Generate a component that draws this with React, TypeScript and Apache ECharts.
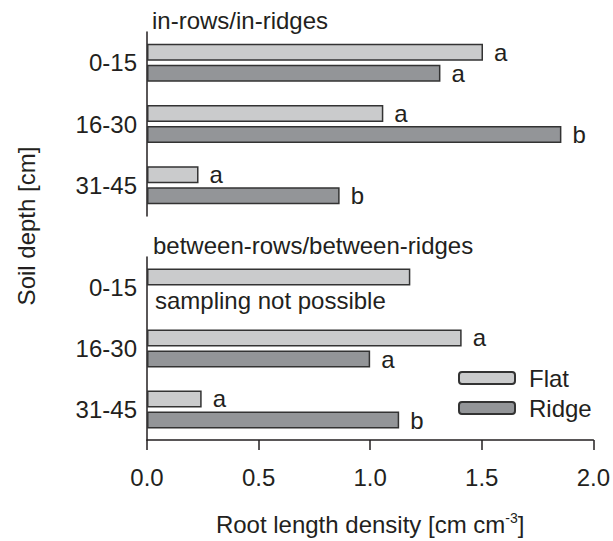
import React, { useEffect, useRef } from "react";
import * as echarts from "echarts";

const depths = ["0-15", "16-30", "31-45"];
const inRowsFlat = [1.5, 1.055, 0.23];
const inRowsRidge = [1.31, 1.85, 0.86];
const betweenFlat = [1.18, 1.41, 0.245];
const betweenRidge: (number | null)[] = [null, 1.0, 1.13];
const inRowsFlatLetters = ["a", "a", "a"];
const inRowsRidgeLetters = ["a", "b", "b"];
const betweenFlatLetters = ["", "a", "a"];
const betweenRidgeLetters = ["", "a", "b"];
const xTicks = [0, 0.5, 1.0, 1.5, 2.0];

const FONT = "Liberation Sans, Arial, sans-serif";
const FS = 24;
const TXT = "#231f20";
const FLAT = "#cacbcc";
const RIDGE = "#939598";
const BORDER = "#333333";

export default function App() {
  const ref = useRef<HTMLDivElement>(null);
  useEffect(() => {
    if (!ref.current) return;
    const chart = echarts.init(ref.current, undefined, { renderer: "svg" });
    const mkLabel = (letters: string[]) => ({
      show: true,
      position: "right" as const,
      distance: 11,
      fontSize: FS,
      fontFamily: FONT,
      color: TXT,
      formatter: (p: any) => letters[p.dataIndex] || "",
    });
    const barCommon = {
      type: "bar" as const,
      barWidth: 17,
      barGap: "24%",
    };
    const yAxisCommon = {
      type: "category" as const,
      data: depths,
      inverse: true,
      axisLine: { show: true, lineStyle: { color: TXT, width: 1.5 } },
      axisTick: { show: false },
      axisLabel: { fontSize: FS, fontFamily: FONT, color: TXT, margin: 10 },
    };
    chart.setOption({
      animation: false,
      textStyle: { fontFamily: FONT },
      title: [
        {
          text: "in-rows/in-ridges",
          left: 152,
          top: 8,
          padding: 0,
          textStyle: { fontSize: FS, fontWeight: "normal", color: TXT, fontFamily: FONT },
        },
        {
          text: "between-rows/between-ridges",
          left: 153,
          top: 233,
          padding: 0,
          textStyle: { fontSize: FS, fontWeight: "normal", color: TXT, fontFamily: FONT },
        },
      ],
      legend: {
        orient: "vertical",
        left: 458,
        top: 366,
        padding: 0,
        itemWidth: 56,
        itemHeight: 12,
        itemGap: 6,
        textStyle: { fontSize: FS, fontFamily: FONT, color: TXT, padding: [0, 0, 0, 9] },
        data: ["Flat", "Ridge"],
      },
      grid: [
        { left: 147, right: 18, top: 32, height: 184 },
        { left: 147, right: 18, top: 257, height: 183 },
      ],
      xAxis: [
        {
          gridIndex: 0,
          type: "value",
          min: 0,
          max: 2,
          interval: 0.5,
          show: false,
        },
        {
          gridIndex: 1,
          type: "value",
          min: 0,
          max: 2,
          interval: 0.5,
          splitLine: { show: false },
          axisLine: { show: true, lineStyle: { color: TXT, width: 1.5 } },
          axisTick: { show: true, length: 10, inside: false, lineStyle: { color: TXT, width: 1.5 } },
          axisLabel: {
            fontSize: FS,
            fontFamily: FONT,
            color: TXT,
            margin: 25,
            formatter: (v: number) => (xTicks.includes(v) ? v.toFixed(1) : ""),
          },
          name: "Root length density [cm cm{sup|-3}]",
          nameLocation: "middle",
          nameGap: 71,
          nameTextStyle: {
            fontSize: FS,
            fontFamily: FONT,
            color: TXT,
            rich: {
              sup: { fontSize: 14, verticalAlign: "top", padding: [0, 0, 12, 0], color: TXT, fontFamily: FONT },
            },
          },
        },
      ],
      yAxis: [
        { gridIndex: 0, ...yAxisCommon },
        { gridIndex: 1, ...yAxisCommon },
      ],
      graphic: [
        {
          type: "text",
          x: 26,
          y: 226,
          rotation: Math.PI / 2,
          style: {
            text: "Soil depth [cm]",
            fontSize: FS,
            fontFamily: FONT,
            fill: TXT,
            align: "center",
            verticalAlign: "middle",
          },
        },
        {
          type: "text",
          x: 155,
          y: 300,
          style: {
            text: "sampling not possible",
            fontSize: FS,
            fontFamily: FONT,
            fill: TXT,
            align: "left",
            verticalAlign: "middle",
          },
        },
      ],
      series: [
        {
          ...barCommon,
          name: "Flat",
          xAxisIndex: 0,
          yAxisIndex: 0,
          data: inRowsFlat,
          itemStyle: { color: FLAT, borderColor: BORDER, borderWidth: 1.5 },
          label: mkLabel(inRowsFlatLetters),
        },
        {
          ...barCommon,
          name: "Ridge",
          xAxisIndex: 0,
          yAxisIndex: 0,
          data: inRowsRidge,
          itemStyle: { color: RIDGE, borderColor: BORDER, borderWidth: 1.5 },
          label: mkLabel(inRowsRidgeLetters),
        },
        {
          ...barCommon,
          name: "Flat",
          xAxisIndex: 1,
          yAxisIndex: 1,
          data: betweenFlat,
          itemStyle: { color: FLAT, borderColor: BORDER, borderWidth: 1.5 },
          label: mkLabel(betweenFlatLetters),
        },
        {
          ...barCommon,
          name: "Ridge",
          xAxisIndex: 1,
          yAxisIndex: 1,
          data: betweenRidge,
          itemStyle: { color: RIDGE, borderColor: BORDER, borderWidth: 1.5 },
          label: mkLabel(betweenRidgeLetters),
        },
      ],
    });
    return () => chart.dispose();
  }, []);
  return (
    <div
      ref={ref}
      style={{ position: "fixed", left: 0, top: 0, width: 613, height: 541, background: "#fff" }}
    />
  );
}
